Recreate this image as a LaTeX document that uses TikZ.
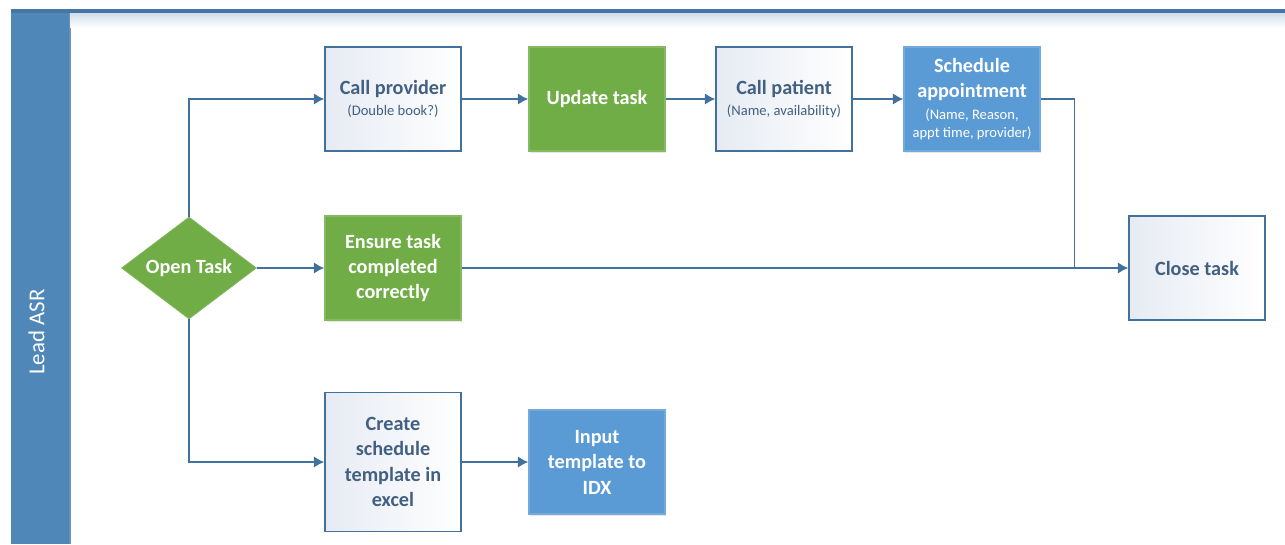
\documentclass[tikz,border=0pt]{standalone}
\usepackage{fontspec}
\setmainfont{Carlito}
\usetikzlibrary{shapes.geometric,arrows.meta,shadows}
\definecolor{lanefill}{RGB}{79,135,184}
\definecolor{laneline}{RGB}{70,118,168}
\definecolor{edgeblue}{RGB}{65,113,156}
\definecolor{textblue}{RGB}{66,96,130}
\definecolor{taskgreen}{RGB}{112,173,71}
\definecolor{taskblue}{RGB}{91,155,213}
\definecolor{paleblue}{RGB}{230,235,243}
\newcommand{\smalltxt}{\mdseries\fontsize{8.3}{10.2}\selectfont}
\tikzset{
	block/.style   = {draw=edgeblue, line width=0.8pt, rectangle, minimum height=2.08cm, minimum width=2.72cm,
	                  align=center, left color=paleblue, right color=white,
	                  text=textblue, font=\bfseries\fontsize{11.5}{14.5}\selectfont},
	greenblock/.style = {block, draw=taskgreen!85!white, fill=taskgreen, left color=taskgreen, right color=taskgreen,
	                  text=white, drop shadow={opacity=0.18, shadow xshift=0.6pt, shadow yshift=-1.2pt}},
	blueblock/.style  = {block, draw=taskblue!85!white, fill=taskblue, left color=taskblue, right color=taskblue,
	                  text=white, drop shadow={opacity=0.18, shadow xshift=0.6pt, shadow yshift=-1.2pt}},
	decision/.style = {draw=taskgreen!85!white, fill=taskgreen, diamond, aspect=1.32, inner sep=0pt,
	                  minimum width=2.7cm, minimum height=2.04cm, text=white,
	                  font=\bfseries\fontsize{11.5}{14.5}\selectfont},
	flow/.style    = {draw=edgeblue, line width=0.85pt, -{Latex[length=6pt,width=6.5pt]}},
}

\begin{document}
\begin{tikzpicture}
		\useasboundingbox (0,0) rectangle (25.7,-10.88);

		% Swimlane
		\fill[lanefill] (0.22,-0.22) rectangle (1.40,-10.88);
		\draw[laneline!80!white, line width=0.6pt] (1.40,-0.22) -- (1.40,-10.88);
		\shade[top color=laneline!25!white, bottom color=white] (1.40,-0.26) rectangle (25.7,-0.55);
		\draw[laneline, line width=2.2pt] (0.22,-0.22) -- (25.7,-0.22);
		\node[rotate=90, text=white, font=\fontsize{13}{15}\selectfont] (lane) at (0.73,-6.64) {Lead ASR};

		% Process nodes
		\node[decision] (opentask) at (3.78,-5.36) {Open Task};
		\node[greenblock, right of = opentask, node distance = 4.08cm] (ensure) {Ensure task\\completed\\correctly};
		\node[block, above of = ensure, node distance = 3.38cm] (callprov) {Call provider\\[-2.5pt]{\smalltxt (Double book?)}};
		\node[block, below of = ensure, node distance = 3.88cm, minimum height=2.78cm] (create) {Create\\schedule\\template in\\excel};
		\node[greenblock, right of = callprov, node distance = 4.08cm] (update) {Update task};
		\node[block, right of = update, node distance = 3.74cm] (callpat) {Call patient\\[-2.5pt]{\smalltxt (Name, availability)}};
		\node[blueblock, right of = callpat, node distance = 3.76cm] (sched) {Schedule\\appointment\\[-2pt]{\smalltxt (Name, Reason,}\\[-4.3pt]{\smalltxt appt time, provider)}};
		\node[block, right of = ensure, node distance = 16.08cm] (close) {Close task};
		\node[blueblock, right of = create, node distance = 4.08cm] (input) {Input\\template to\\IDX};
		\coordinate (join) at ([xshift=0.68cm]sched.east |- close.west);

		% Connect everything together
		\draw[flow] (opentask.north) |- (callprov.west);
		\draw[flow] (opentask.east) -- (ensure.west);
		\draw[flow] (opentask.south) |- (create.west);
		\draw[flow] (callprov) -- (update);
		\draw[flow] (update) -- (callpat);
		\draw[flow] (callpat) -- (sched);
		\draw[flow] (ensure) -- (close);
		\draw[edgeblue, line width=0.85pt] (sched.east) -| (join);
		\draw[flow] (create) -- (input);
	\end{tikzpicture}
\end{document}
